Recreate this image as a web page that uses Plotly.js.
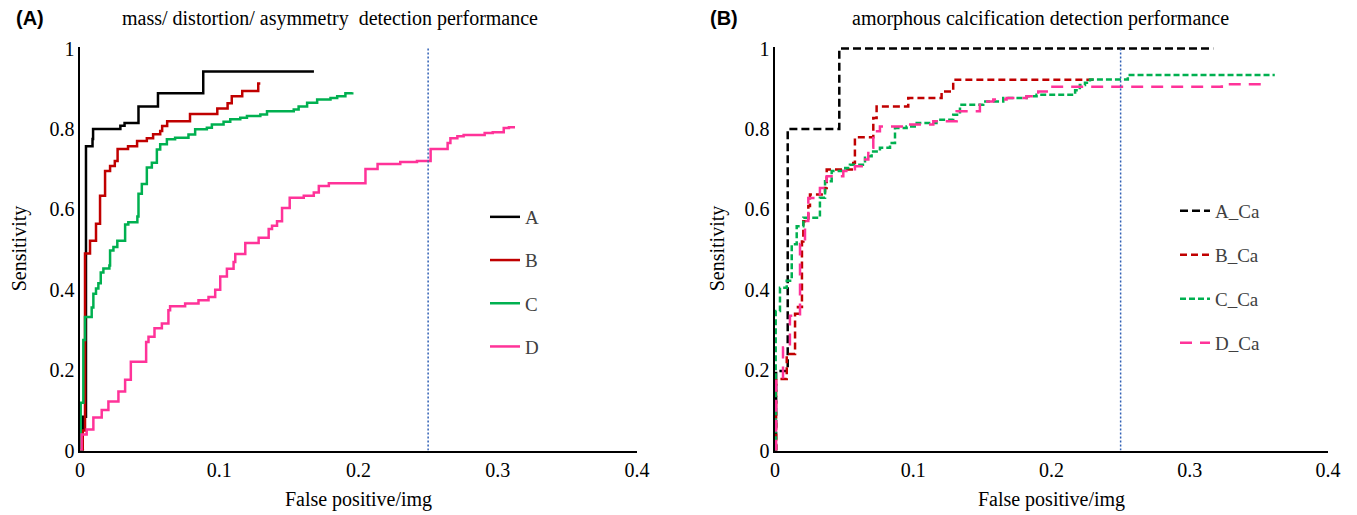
<!DOCTYPE html>
<html>
<head>
<meta charset="utf-8">
<script src="https://cdn.plot.ly/plotly-3.0.1.min.js"></script>
<style>html,body{margin:0;padding:0;background:#fff;}#chart{width:1357px;height:515px;}</style>
</head>
<body>
<div id="chart"></div>
<script>
// ---------- Data ----------
// Panel A: mass / distortion / asymmetry
var fpA_A = [0, 0.002, 0.0043, 0.0090, 0.0094, 0.029, 0.032, 0.042, 0.056, 0.0885, 0.168];
var senA_A = [0, 0.084, 0.757, 0.775, 0.800, 0.808, 0.815, 0.856, 0.889, 0.943, 0.943];

var fpA_B = [0, 0.002, 0.0036, 0.0072, 0.0115, 0.0144, 0.018, 0.0216, 0.025, 0.027, 0.0345, 0.041, 0.048, 0.0525, 0.0576, 0.059, 0.0626, 0.079, 0.0986, 0.106, 0.109, 0.1165, 0.128, 0.1295];
var senA_B = [0, 0.05, 0.49, 0.522, 0.564, 0.634, 0.695, 0.708, 0.72, 0.75, 0.757, 0.77, 0.777, 0.787, 0.795, 0.807, 0.819, 0.837, 0.851, 0.864, 0.881, 0.894, 0.913, 0.913];

var fpA_C = [0, 0.0005, 0.0024, 0.0036, 0.0084, 0.0096, 0.0115, 0.0132, 0.0149, 0.0168, 0.0211, 0.0216, 0.024, 0.0268, 0.0324, 0.0347, 0.0412, 0.042, 0.0444, 0.048, 0.0516, 0.0552, 0.0576, 0.0624, 0.0683, 0.0779, 0.0827, 0.0911, 0.0947, 0.1031, 0.1079, 0.1151, 0.1199, 0.1295, 0.1343, 0.1535, 0.157, 0.1631, 0.1703, 0.1799, 0.1847, 0.1906, 0.1955];
var senA_C = [0, 0.119, 0.275, 0.332, 0.356, 0.39, 0.403, 0.416, 0.443, 0.453, 0.46, 0.4975, 0.506, 0.522, 0.562, 0.568, 0.582, 0.639, 0.663, 0.704, 0.716, 0.749, 0.762, 0.774, 0.778, 0.786, 0.799, 0.803, 0.811, 0.818, 0.824, 0.828, 0.832, 0.836, 0.844, 0.848, 0.856, 0.865, 0.873, 0.877, 0.881, 0.889, 0.891];

var fpA_D = [0, 0.0012, 0.0048, 0.0096, 0.0156, 0.0204, 0.0276, 0.0324, 0.0365, 0.0475, 0.0492, 0.0535, 0.0588, 0.0635, 0.0647, 0.0755, 0.0851, 0.0923, 0.0971, 0.1007, 0.1055, 0.1103, 0.1115, 0.1187, 0.1283, 0.1355, 0.1379, 0.1415, 0.1451, 0.1506, 0.1607, 0.1679, 0.1715, 0.1787, 0.205, 0.2137, 0.230, 0.242, 0.2518, 0.264, 0.266, 0.271, 0.2755, 0.2906, 0.2964, 0.3043, 0.308, 0.3115];
var senA_D = [0, 0.04, 0.052, 0.082, 0.101, 0.122, 0.147, 0.176, 0.221, 0.27, 0.283, 0.304, 0.316, 0.349, 0.359, 0.366, 0.374, 0.382, 0.40, 0.433, 0.452, 0.469, 0.489, 0.516, 0.529, 0.551, 0.559, 0.57, 0.603, 0.629, 0.634, 0.642, 0.658, 0.665, 0.70, 0.713, 0.718, 0.72, 0.75, 0.765, 0.777, 0.782, 0.785, 0.79, 0.792, 0.802, 0.804, 0.807];

// Panel B: amorphous calcification
var fpB_A = [0, 0.0008, 0.0092, 0.0465, 0.317];
var senB_A = [0, 0.198, 0.80, 1.0, 1.0];

var fpB_B = [0, 0.0008, 0.0085, 0.0145, 0.0166, 0.0195, 0.0205, 0.0241, 0.0253, 0.0362, 0.0374, 0.0566, 0.0578, 0.0711, 0.0735, 0.0964, 0.1205, 0.1289, 0.2328];
var senB_B = [0, 0.178, 0.24, 0.34, 0.357, 0.52, 0.57, 0.608, 0.637, 0.653, 0.699, 0.715, 0.779, 0.827, 0.856, 0.877, 0.893, 0.922, 0.922];

var fpB_C = [0, 0.0005, 0.0036, 0.0085, 0.0121, 0.0157, 0.0205, 0.0325, 0.0362, 0.041, 0.0508, 0.0542, 0.0651, 0.0699, 0.0759, 0.0832, 0.0868, 0.0952, 0.1025, 0.1168, 0.1289, 0.1338, 0.1506, 0.1651, 0.182, 0.1892, 0.2171, 0.2205, 0.2242, 0.2278, 0.2552, 0.3615];
var senB_C = [0, 0.347, 0.405, 0.422, 0.513, 0.558, 0.579, 0.629, 0.67, 0.695, 0.703, 0.711, 0.732, 0.744, 0.753, 0.765, 0.802, 0.806, 0.815, 0.823, 0.835, 0.86, 0.868, 0.877, 0.881, 0.885, 0.896, 0.909, 0.915, 0.923, 0.934, 0.934];

var fpB_D = [0, 0.0008, 0.0058, 0.0108, 0.0181, 0.0217, 0.0241, 0.0325, 0.0374, 0.0494, 0.0578, 0.0627, 0.0675, 0.0711, 0.0759, 0.0952, 0.1145, 0.1314, 0.1482, 0.1579, 0.1675, 0.182, 0.1904, 0.1981, 0.3232, 0.3557];
var senB_D = [0, 0.178, 0.256, 0.335, 0.514, 0.571, 0.628, 0.653, 0.682, 0.695, 0.707, 0.724, 0.753, 0.794, 0.806, 0.811, 0.819, 0.844, 0.868, 0.873, 0.877, 0.881, 0.893, 0.905, 0.911, 0.911];

var namesA = ["A", "B", "C", "D"];
var namesB = ["A_Ca", "B_Ca", "C_Ca", "D_Ca"];
var thresholdFP = 0.25;
var refLineY = [0, 1];

var xTickVals = [0, 0.1, 0.2, 0.3, 0.4];
var xTickText = ["0", "0.1", "0.2", "0.3", "0.4"];
var yTickVals = [0, 0.2, 0.4, 0.6, 0.8, 1];
var yTickText = ["0", "0.2", "0.4", "0.6", "0.8", "1"];

// ---------- Styles ----------
var colors = ["#000000", "#C00000", "#00B050", "#FF3399"];
var dashesB = ["8px,4px", "7px,4px", "6px,3px", "12px,8px"];
var serif = "Liberation Serif, Times New Roman, serif";

var seriesA = [[fpA_A, senA_A], [fpA_B, senA_B], [fpA_C, senA_C], [fpA_D, senA_D]];
var seriesB = [[fpB_A, senB_A], [fpB_B, senB_B], [fpB_C, senB_C], [fpB_D, senB_D]];

var traces = [];
seriesA.forEach(function (s, i) {
  traces.push({
    x: s[0], y: s[1], type: "scatter", mode: "lines", name: namesA[i],
    xaxis: "x", yaxis: "y", legend: "legend", legendgroup: "a" + i,
    line: {color: colors[i], width: 2.5, shape: "hv"}, hoverinfo: "skip"
  });
});
seriesB.forEach(function (s, i) {
  traces.push({
    x: s[0], y: s[1], type: "scatter", mode: "lines", name: namesB[i],
    xaxis: "x2", yaxis: "y2", legend: "legend2", legendgroup: "b" + i,
    line: {color: colors[i], width: 2.5, shape: "hv", dash: dashesB[i]}, hoverinfo: "skip"
  });
});
traces.push({x: [thresholdFP, thresholdFP], y: refLineY, type: "scatter", mode: "lines",
  xaxis: "x", yaxis: "y", showlegend: false, hoverinfo: "skip",
  line: {color: "#2F5FB5", width: 1.5, dash: "2px,2px"}});
traces.push({x: [thresholdFP, thresholdFP], y: refLineY, type: "scatter", mode: "lines",
  xaxis: "x2", yaxis: "y2", showlegend: false, hoverinfo: "skip",
  line: {color: "#2F5FB5", width: 1.5, dash: "2px,2px"}});

function xAxis(domain, anchor) {
  return {
    domain: domain, anchor: anchor, range: [0, 0.4], tickmode: "array",
    tickvals: xTickVals, ticktext: xTickText, showgrid: false, zeroline: false,
    showline: true, linecolor: "#000", linewidth: 2, ticks: "",
    tickfont: {family: serif, size: 20, color: "#000"},
    title: {text: "False positive/img", font: {family: serif, size: 20, color: "#000"}, standoff: 12}
  };
}
function yAxis(anchor, standoff) {
  return {
    domain: [0.1252, 0.9097], anchor: anchor, range: [0, 1.005], tickmode: "array",
    tickvals: yTickVals, ticktext: yTickText, showgrid: false, zeroline: false,
    showline: true, linecolor: "#000", linewidth: 1.5, ticks: "",
    tickfont: {family: serif, size: 20, color: "#000"},
    title: {text: "Sensitivity", font: {family: serif, size: 20, color: "#000"}, standoff: standoff}
  };
}

var layout = {
  width: 1357, height: 515,
  margin: {l: 0, r: 0, t: 0, b: 0},
  paper_bgcolor: "#fff", plot_bgcolor: "#fff",
  showlegend: true,
  xaxis: xAxis([0.05895, 0.46942], "y"),
  yaxis: yAxis("x", 17),
  xaxis2: xAxis([0.57111, 0.97863], "y2"),
  yaxis2: yAxis("x2", 14),
  legend: {x: 485 / 1357, xanchor: "left", y: (515 - 198) / 515, yanchor: "top",
    font: {family: serif, size: 19, color: "#404040"}, tracegroupgap: 15.5,
    bgcolor: "rgba(0,0,0,0)", traceorder: "grouped"},
  legend2: {x: 1175 / 1357, xanchor: "left", y: (515 - 192) / 515, yanchor: "top",
    font: {family: serif, size: 19, color: "#404040"}, tracegroupgap: 16.3,
    bgcolor: "rgba(0,0,0,0)", traceorder: "grouped"},
  annotations: [
    {text: "(A)", xref: "paper", yref: "paper", x: 30 / 1357, y: (515 - 18) / 515,
      xanchor: "center", yanchor: "middle", showarrow: false,
      font: {family: "Liberation Sans, Arial, sans-serif", size: 20, color: "#000", weight: "bold"}},
    {text: "mass/ distortion/ asymmetry\u00a0 detection performance", xref: "paper", yref: "paper",
      x: 330 / 1357, y: (515 - 18) / 515, xanchor: "center", yanchor: "middle", showarrow: false,
      font: {family: serif, size: 20, color: "#000"}},
    {text: "(B)", xref: "paper", yref: "paper", x: 724 / 1357, y: (515 - 18) / 515,
      xanchor: "center", yanchor: "middle", showarrow: false,
      font: {family: "Liberation Sans, Arial, sans-serif", size: 20, color: "#000", weight: "bold"}},
    {text: "amorphous calcification detection performance", xref: "paper", yref: "paper",
      x: 1040 / 1357, y: (515 - 18) / 515, xanchor: "center", yanchor: "middle", showarrow: false,
      font: {family: serif, size: 20, color: "#000"}}
  ]
};

Plotly.newPlot("chart", traces, layout, {staticPlot: true, displayModeBar: false});
</script>
</body>
</html>
